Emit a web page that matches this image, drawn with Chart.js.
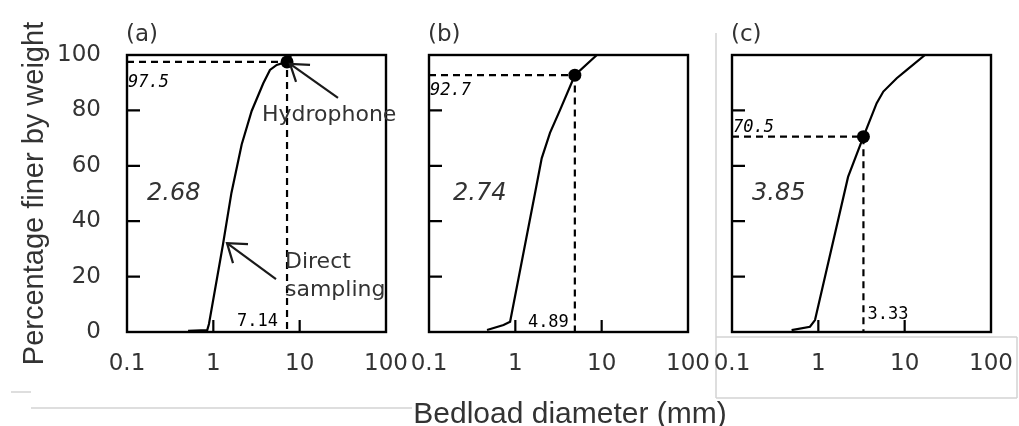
<!DOCTYPE html>
<html><head><meta charset="utf-8">
<script src="https://cdn.jsdelivr.net/npm/chart.js@4.4.1/dist/chart.umd.min.js"></script>
<style>
html,body{margin:0;padding:0;background:#fff;width:1019px;height:426px;overflow:hidden}
canvas{position:absolute;left:0;top:0}
</style></head><body>
<canvas id="ca" width="1019" height="426"></canvas>
<canvas id="cb" width="1019" height="426"></canvas>
<canvas id="cc" width="1019" height="426"></canvas>
<script>
// ---- data ----
const xTickValues = [0.1, 1, 10, 100];
const xTickLabels = ['0.1', '1', '10', '100'];
const yTickValues = [0, 20, 40, 60, 80, 100];
const yTickLabels = ['0', '20', '40', '60', '80', '100'];
const panelLabels = ['(a)', '(b)', '(c)'];
const exponentLabels = ['2.68', '2.74', '3.85'];
const markerD = [7.14, 4.89, 3.33];
const markerP = [97.5, 92.7, 70.5];

const curveA_d = [0.51, 0.85, 0.89, 1.29, 1.62, 2.13, 2.78, 3.79, 4.53, 5.42, 7.14, 8.0];
const curveA_p = [0.4, 0.7, 2.9, 31.4, 50.2, 67.7, 79.8, 89.8, 94.6, 96.4, 97.5, 100];
const curveB_d = [0.47, 0.73, 0.87, 1.69, 2.02, 2.52, 3.29, 4.89, 8.8];
const curveB_p = [0.7, 2.5, 3.7, 50.1, 62.7, 71.9, 80.1, 92.7, 100];
const curveC_d = [0.49, 0.80, 0.915, 2.21, 3.33, 4.74, 5.66, 8.09, 10.6, 17.2];
const curveC_p = [0.7, 1.9, 4.3, 56, 70.5, 82.6, 86.8, 91.6, 94.6, 100];

const yTitle = 'Percentage finer by weight';
const xTitle = 'Bedload diameter (mm)';

// ---- layout ----
const W = 1019, H = 426, TOP = 55, BOTTOM = 332;
const boxLeft = [127, 429, 732];
const boxRight = [386, 688, 991];
const LABEL_FONT = 'DejaVu Sans';
const TEXT = '#1e1e1e';

function arrow(ctx, x1, y1, x2, y2, h1, h2) {
  ctx.save();
  ctx.strokeStyle = '#1a1a1a'; ctx.lineWidth = 2.2;
  ctx.beginPath(); ctx.moveTo(x1, y1); ctx.lineTo(x2, y2); ctx.stroke();
  ctx.beginPath(); ctx.moveTo(x2 + h1[0], y2 + h1[1]); ctx.lineTo(x2, y2); ctx.lineTo(x2 + h2[0], y2 + h2[1]); ctx.stroke();
  ctx.restore();
}

function framePlugin(idx) {
  return {
    id: 'frame' + idx,
    beforeDraw(chart) {
      if (idx !== 0) return;
      const ctx = chart.ctx;
      ctx.save();
      ctx.strokeStyle = '#d4d4d4'; ctx.lineWidth = 1.5;
      ctx.beginPath();
      ctx.moveTo(11, 392); ctx.lineTo(31, 392);
      ctx.moveTo(31, 408); ctx.lineTo(412, 408);
      ctx.moveTo(716, 33); ctx.lineTo(716, 398);
      ctx.moveTo(716, 337); ctx.lineTo(1017, 337);
      ctx.moveTo(716, 398); ctx.lineTo(1017, 398);
      ctx.moveTo(1017, 337); ctx.lineTo(1017, 398);
      ctx.stroke();
      ctx.restore();
    },
    afterDraw(chart) {
      const ctx = chart.ctx, a = chart.chartArea;
      const xs = chart.scales.x, ys = chart.scales.y;
      ctx.save();
      // box
      ctx.strokeStyle = '#000'; ctx.lineWidth = 2.4;
      ctx.strokeRect(a.left, a.top, a.right - a.left, a.bottom - a.top);
      // inward ticks
      ctx.lineWidth = 2.2;
      ctx.beginPath();
      [1, 10].forEach(v => { const px = xs.getPixelForValue(v); ctx.moveTo(px, a.bottom); ctx.lineTo(px, a.bottom - 12); });
      [20, 40, 60, 80].forEach(v => { const py = ys.getPixelForValue(v); ctx.moveTo(a.left, py); ctx.lineTo(a.left + 13, py); });
      ctx.stroke();

      const mx = xs.getPixelForValue(markerD[idx]);
      const my = ys.getPixelForValue(markerP[idx]);
      ctx.fillStyle = '#333';
      ctx.textBaseline = 'middle';
      // panel label
      ctx.font = '23px "' + LABEL_FONT + '"';
      ctx.textAlign = 'left';
      ctx.fillText(panelLabels[idx], a.left - 1, a.top - 20);
      // exponent
      ctx.font = 'italic 24px "' + LABEL_FONT + '"';
      ctx.fillText(exponentLabels[idx], a.left + [20, 24, 20][idx], ys.getPixelForValue(50));
      // small value labels
      ctx.fillStyle = '#000';
      ctx.font = 'italic 17px "DejaVu Sans Mono"';
      ctx.fillText(markerP[idx].toFixed(1), a.left + 1, my + [21, 15, -9][idx]);
      ctx.font = '17px "DejaVu Sans Mono"';
      if (idx === 2) { ctx.textAlign = 'left'; ctx.fillText(markerD[idx].toFixed(2), mx + 4, a.bottom - 17); }
      else { ctx.textAlign = 'right'; ctx.fillText(markerD[idx].toFixed(2), mx + [-9, -6][idx], a.bottom - [10, 9][idx]); }

      if (idx === 0) {
        ctx.fillStyle = '#333';
        ctx.textAlign = 'left';
        ctx.font = '22px "' + LABEL_FONT + '"';
        ctx.fillText('Hydrophone', xs.getPixelForValue(3.66), ys.getPixelForValue(78.3));
        ctx.fillText('Direct', xs.getPixelForValue(6.76), ys.getPixelForValue(25.3));
        ctx.fillText('sampling', xs.getPixelForValue(6.76), ys.getPixelForValue(15.2));
        arrow(ctx, xs.getPixelForValue(27.8), ys.getPixelForValue(84.5), mx + 3, my + 2, [20, 1], [6, 18]);
        arrow(ctx, xs.getPixelForValue(5.32), ys.getPixelForValue(19.1), xs.getPixelForValue(1.44), ys.getPixelForValue(32.1), [21, 1], [6, 20]);
        // shared x title
        ctx.font = '30px "Liberation Sans"';
        ctx.textAlign = 'center';
        ctx.textBaseline = 'alphabetic';
        ctx.fillText(xTitle, 570, 423);
      }
      ctx.restore();
    }
  };
}

function panel(id, idx, curveD, curveP) {
  const showY = idx === 0;
  return new Chart(document.getElementById(id), {
    type: 'line',
    data: { datasets: [
      { data: curveD.map((d, i) => ({ x: d, y: curveP[i] })), borderColor: '#000', borderWidth: 2.2, pointRadius: 0, tension: 0, fill: false },
      { data: [{ x: 0.1, y: markerP[idx] }, { x: markerD[idx], y: markerP[idx] }, { x: markerD[idx], y: 0 }],
        borderColor: '#000', borderWidth: 2.2, borderDash: [7, 5], pointRadius: 0, fill: false },
      { data: [{ x: markerD[idx], y: markerP[idx] }], showLine: false, pointRadius: 6.5,
        pointBackgroundColor: '#000', pointBorderColor: '#000', pointBorderWidth: 0 }
    ]},
    options: {
      responsive: false, animation: false, devicePixelRatio: 1, events: [],
      layout: { padding: { left: 0, right: W - boxRight[idx], top: TOP, bottom: 0 } },
      plugins: { legend: { display: false }, tooltip: { enabled: false } },
      scales: {
        x: {
          type: 'logarithmic', min: 0.1, max: 100, position: 'bottom',
          grid: { display: false, drawTicks: false }, border: { display: false },
          afterBuildTicks: s => { s.ticks = xTickValues.map(v => ({ value: v })); },
          ticks: { autoSkip: false, maxRotation: 0, minRotation: 0, padding: 18, color: '#333',
                   font: { family: LABEL_FONT, size: 23 },
                   callback: (v, i) => xTickLabels[i] },
          afterFit: s => { s.height = H - BOTTOM; s.paddingLeft = 0; s.paddingRight = 0; }
        },
        y: {
          type: 'linear', min: 0, max: 100,
          grid: { display: false, drawTicks: false }, border: { display: false },
          afterBuildTicks: s => { s.ticks = yTickValues.map(v => ({ value: v })); },
          ticks: { display: showY, padding: 26, color: '#333', font: { family: LABEL_FONT, size: 23 },
                   callback: (v, i) => yTickLabels[i] },
          title: { display: showY, text: yTitle, color: '#333', font: { family: 'Liberation Sans', size: 29 },
                   padding: { top: 18, bottom: 0 } },
          afterFit: s => { s.width = boxLeft[idx]; s.paddingTop = 0; s.paddingBottom = 0; }
        }
      }
    },
    plugins: [framePlugin(idx)]
  });
}

panel('ca', 0, curveA_d, curveA_p);
panel('cb', 1, curveB_d, curveB_p);
panel('cc', 2, curveC_d, curveC_p);
</script>
</body></html>
